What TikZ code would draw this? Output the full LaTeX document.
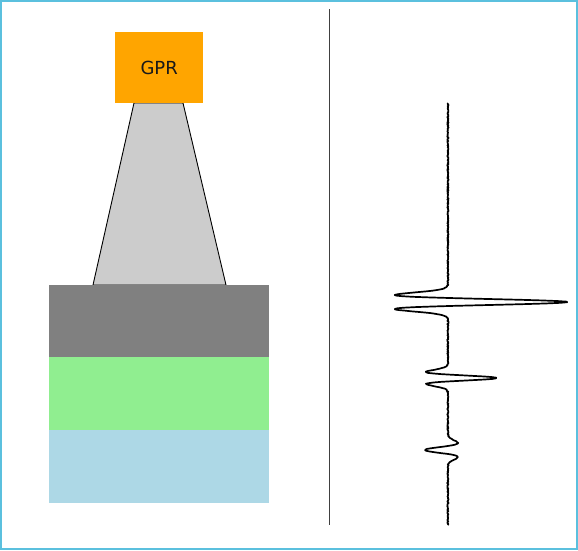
\documentclass[tikz,border=0pt]{standalone}
\usepackage{fontspec}
\setsansfont{DejaVu Sans}
\definecolor{gprorange}{HTML}{FFA500}
\definecolor{conegray}{HTML}{CCCCCC}
\definecolor{layerdark}{HTML}{808080}
\definecolor{layergreen}{HTML}{90EE90}
\definecolor{layerblue}{HTML}{ADD8E6}
\definecolor{framecol}{HTML}{5BC0DE}
\begin{document}
\begin{tikzpicture}[x=1pt,y=-1pt,
  layer/.style={draw=none,inner sep=0pt,minimum width=220pt,minimum height=72.5pt,anchor=north west},
  trace/.style={line width=1.7pt,line join=round},
  declare function={rk(\u)=(1-2*min(\u*\u,25))*exp(-min(\u*\u,25));}]
\useasboundingbox (0,0) rectangle (578,550);
\fill[white] (0,0) rectangle (578,550);
\draw[framecol,line width=2pt] (1,1) rectangle (577,549);
% cone
\filldraw[fill=conegray,draw=black,line width=0.9pt] (134,103) -- (183,103) -- (226,285) -- (93,285) -- cycle;
% GPR box
\node[fill=gprorange,inner sep=0pt,minimum width=88pt,minimum height=71pt,anchor=north west,
      font=\sffamily\fontsize{18}{18}\selectfont,text=black!90] (gpr) at (115,32) {GPR};
% layers
\node[layer,fill=layerdark] (l1) at (49,285) {};
\node[layer,fill=layergreen] (l2) at (49,357) {};
\node[layer,fill=layerblue] (l3) at (49,430) {};
% divider
\draw[black!75,line width=1pt] (329,9) -- (329,525);
% trace
\pgfmathsetseed{7}
\draw[trace] plot[domain=103:525,samples=700,variable=\t]
  ({448 + 0.6*rand + 120*rk((\t-302)/5.7) + 49*rk((\t-378)/4.9) - 23*rk((\t-450)/5.7)}, \t);
\end{tikzpicture}
\end{document}
